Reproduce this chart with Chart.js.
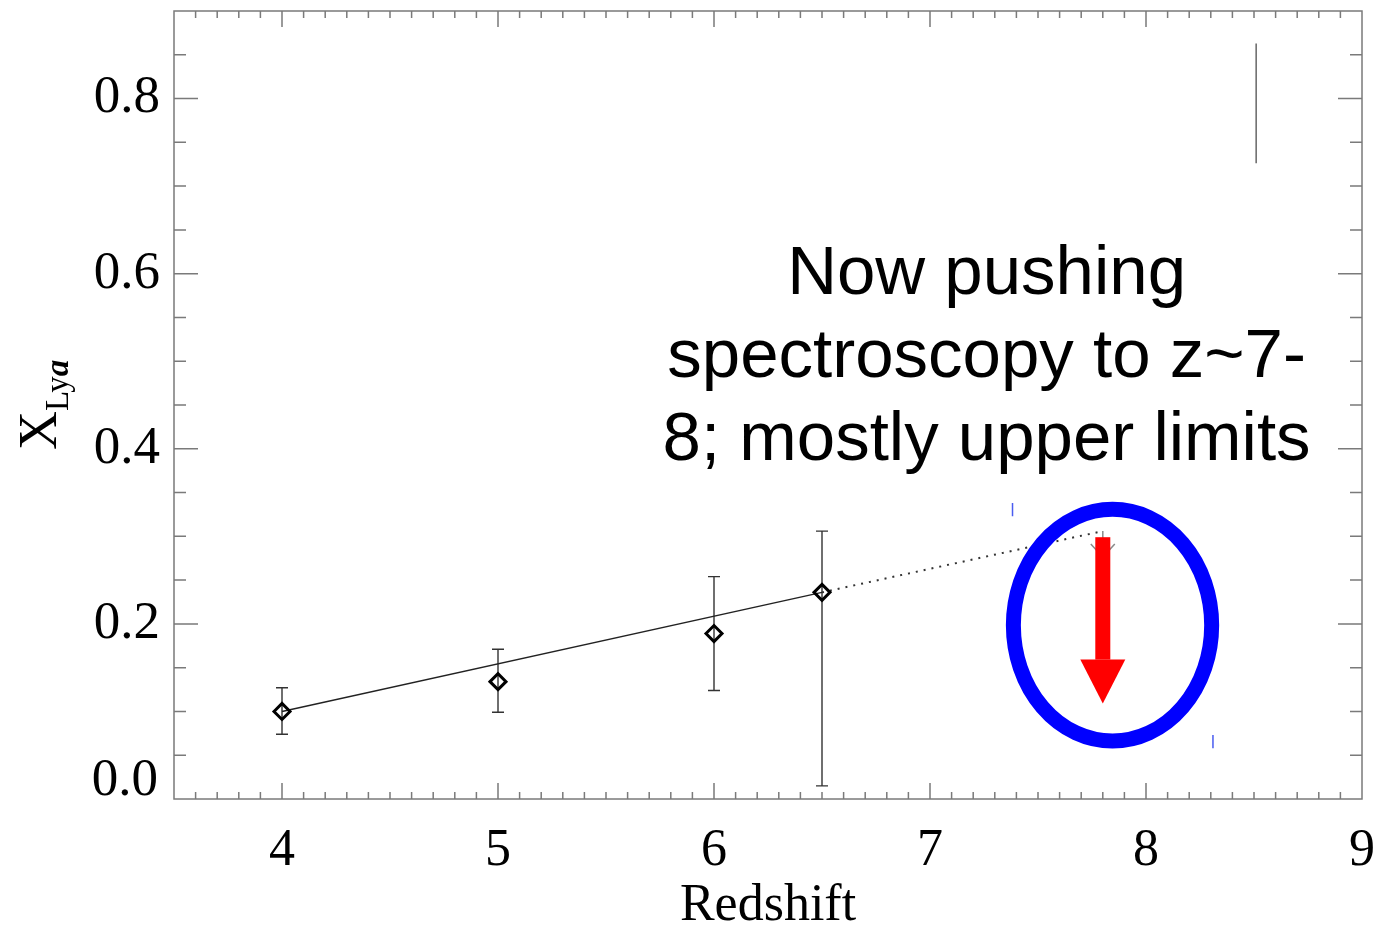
<!DOCTYPE html>
<html>
<head>
<meta charset="utf-8">
<script src="https://cdn.jsdelivr.net/npm/chart.js@4.4.1/dist/chart.umd.min.js"></script>
<style>
  html, body { margin: 0; padding: 0; background: #fff; }
  #wrap { width: 1376px; height: 925px; position: relative; }
</style>
</head>
<body>
<div id="wrap"><canvas id="lyaChart"></canvas></div>
<script>
// measured points with error bars
const redshift = [4, 5, 6, 6.5];
const xLya = [0.100, 0.134, 0.189, 0.236];
const errLow = [0.074, 0.099, 0.124, 0.015];
const errHigh = [0.127, 0.171, 0.254, 0.306];

// linear trend, solid over the data then dotted out to the limit
const fitSolidZ = [4, 6.5];
const fitSolidX = [0.100, 0.236];
const fitDottedZ = [6.5, 7.8];
const fitDottedX = [0.236, 0.306];

// upper limit at z~7.8
const limitZ = [7.8];
const limitX = [0.306];

// stray grey bar top right
const markZ = [8.51, 8.51];
const markX = [0.726, 0.863];

// small blue leftovers near the circle
const blueZ = [7.382, 8.31];
const blueLow = [0.323, 0.058];
const blueHigh = [0.338, 0.073];

const xTickValues = [4, 5, 6, 7, 8, 9];
const yTickValues = [0, 0.2, 0.4, 0.6, 0.8];

const noteLines = ['Now pushing', 'spectroscopy to z~7-', '8; mostly upper limits'];

// overlay anchors (data units)
const circle = { z: 7.845, x: 0.1985, rz: 0.459, rx: 0.1323 };
const redArrow = { z: 7.8, from: 0.299, to: 0.109 };
const note = { z: 7.262, x: 0.577 };

const AXIS_COLOR = '#7a7a7a';
const SERIF = '"Liberation Serif", "Times New Roman", serif';

function toXY(xs, ys) {
    return xs.map((v, i) => ({ x: v, y: ys[i] }));
}

function noPadding(s) {
    s.paddingTop = 0;
    s.paddingBottom = 0;
    s.paddingLeft = 0;
    s.paddingRight = 0;
}

const framePlugin = {
    id: 'frame',
    beforeDatasetsDraw(chart) {
        const { ctx, chartArea: a, scales: { x, y } } = chart;
        ctx.save();
        ctx.strokeStyle = AXIS_COLOR;
        ctx.lineWidth = 1.5;
        ctx.strokeRect(a.left, a.top, a.right - a.left, a.bottom - a.top);

        ctx.beginPath();
        // x ticks every 0.1, major every 1
        for (let i = 36; i < 90; i++) {
            const px = x.getPixelForValue(i / 10);
            const len = i % 10 === 0 ? 16 : 7;
            ctx.moveTo(px, a.bottom); ctx.lineTo(px, a.bottom - len);
            ctx.moveTo(px, a.top); ctx.lineTo(px, a.top + len);
        }
        // y ticks every 0.05, major every 0.2
        for (let i = 1; i < 18; i++) {
            const py = y.getPixelForValue(i * 0.05);
            const len = i % 4 === 0 ? 24 : 12;
            ctx.moveTo(a.left, py); ctx.lineTo(a.left + len, py);
            ctx.moveTo(a.right, py); ctx.lineTo(a.right - len, py);
        }
        ctx.stroke();

        // error bars
        ctx.strokeStyle = '#333';
        ctx.lineWidth = 1.4;
        ctx.beginPath();
        redshift.forEach((z, i) => {
            const px = x.getPixelForValue(z);
            const lo = y.getPixelForValue(errLow[i]);
            const hi = y.getPixelForValue(errHigh[i]);
            ctx.moveTo(px, lo); ctx.lineTo(px, hi);
            ctx.moveTo(px - 6, lo); ctx.lineTo(px + 6, lo);
            ctx.moveTo(px - 6, hi); ctx.lineTo(px + 6, hi);
        });
        ctx.stroke();

        // upper limit marker
        ctx.strokeStyle = '#8a8a8a';
        ctx.lineWidth = 1.5;
        ctx.beginPath();
        limitZ.forEach((z, i) => {
            const px = x.getPixelForValue(z);
            const py = y.getPixelForValue(limitX[i]);
            ctx.moveTo(px, py); ctx.lineTo(px, py + 26);
            ctx.moveTo(px - 12, py + 13); ctx.lineTo(px, py + 26); ctx.lineTo(px + 12, py + 13);
        });
        ctx.stroke();

        // blue leftovers
        ctx.strokeStyle = '#4a5cf0';
        ctx.lineWidth = 1.5;
        ctx.beginPath();
        blueZ.forEach((z, i) => {
            const px = x.getPixelForValue(z);
            ctx.moveTo(px, y.getPixelForValue(blueLow[i]));
            ctx.lineTo(px, y.getPixelForValue(blueHigh[i]));
        });
        ctx.stroke();
        ctx.restore();
    },
    afterDraw(chart) {
        const { ctx, scales: { x, y } } = chart;
        ctx.save();

        // blue circle
        const cx = x.getPixelForValue(circle.z);
        const cy = y.getPixelForValue(circle.x);
        const rx = x.getPixelForValue(circle.z + circle.rz) - cx;
        const ry = cy - y.getPixelForValue(circle.x + circle.rx);
        ctx.strokeStyle = '#0000ff';
        ctx.lineWidth = 15;
        ctx.beginPath();
        ctx.ellipse(cx, cy, rx, ry, 0, 0, Math.PI * 2);
        ctx.stroke();

        // red arrow
        const ax = x.getPixelForValue(redArrow.z);
        const top = y.getPixelForValue(redArrow.from);
        const tip = y.getPixelForValue(redArrow.to);
        ctx.fillStyle = '#ff0000';
        ctx.fillRect(ax - 7.5, top, 15, tip - 44 - top);
        ctx.beginPath();
        ctx.moveTo(ax - 22.5, tip - 44);
        ctx.lineTo(ax + 22.5, tip - 44);
        ctx.lineTo(ax, tip);
        ctx.closePath();
        ctx.fill();

        // annotation text
        ctx.fillStyle = '#000';
        ctx.font = '69px "Liberation Sans", Arial, sans-serif';
        ctx.textAlign = 'center';
        ctx.textBaseline = 'alphabetic';
        const nx = x.getPixelForValue(note.z);
        const ny = y.getPixelForValue(note.x);
        noteLines.forEach((line, i) => ctx.fillText(line, nx, ny + i * 83));

        // 0.0 label sits above its tick
        ctx.font = '53px ' + SERIF;
        ctx.textAlign = 'right';
        ctx.textBaseline = 'middle';
        ctx.fillText('0.0', x.left - 16, y.getPixelForValue(0) - 18);

        // y title with subscript
        ctx.translate(56, 450);
        ctx.rotate(-Math.PI / 2);
        ctx.textAlign = 'left';
        ctx.textBaseline = 'alphabetic';
        ctx.font = '54px ' + SERIF;
        ctx.fillText('X', 0, 0);
        const w1 = ctx.measureText('X').width;
        ctx.font = '33px ' + SERIF;
        ctx.fillText('Ly', w1, 12);
        const w2 = ctx.measureText('Ly').width;
        ctx.font = 'italic bold 33px ' + SERIF;
        ctx.fillText('a', w1 + w2, 12);
        ctx.restore();
    }
};

const ctx = document.getElementById('lyaChart').getContext('2d');
const lyaChart = new Chart(ctx, {
    type: 'scatter',
    data: {
        datasets: [
            {
                label: 'X_Lya',
                data: toXY(redshift, xLya),
                pointStyle: 'rectRot',
                pointRadius: 8,
                pointBorderWidth: 3,
                borderColor: '#000',
                backgroundColor: 'rgba(0,0,0,0)',
                showLine: false,
            },
            {
                label: 'fit',
                data: toXY(fitSolidZ, fitSolidX),
                showLine: true,
                pointRadius: 0,
                borderColor: '#222',
                borderWidth: 1.4,
            },
            {
                label: 'fit extrapolated',
                data: toXY(fitDottedZ, fitDottedX),
                showLine: true,
                pointRadius: 0,
                borderColor: '#333',
                borderWidth: 2,
                borderDash: [2, 6],
            },
            {
                label: 'mark',
                data: toXY(markZ, markX),
                showLine: true,
                pointRadius: 0,
                borderColor: '#666',
                borderWidth: 1.5,
            },
        ],
    },
    options: {
        responsive: true,
        maintainAspectRatio: false,
        animation: false,
        layout: {
            padding: { top: 10, right: 14, left: 0, bottom: 0 }
        },
        plugins: {
            legend: { display: false },
            tooltip: { enabled: false },
        },
        scales: {
            x: {
                type: 'linear',
                min: 3.5,
                max: 9,
                afterFit: (s) => { s.height = 126; noPadding(s); },
                afterBuildTicks: (s) => { s.ticks = xTickValues.map((v) => ({ value: v })); },
                grid: { display: false },
                border: { display: false },
                ticks: {
                    padding: 13,
                    color: '#000',
                    maxRotation: 0,
                    autoSkip: false,
                    font: { family: SERIF, size: 52 },
                    callback: (v) => String(v),
                },
                title: {
                    display: true,
                    text: 'Redshift',
                    color: '#000',
                    font: { family: SERIF, size: 52 },
                    padding: { top: 0, bottom: -13 },
                },
            },
            y: {
                min: 0,
                max: 0.9,
                afterFit: (s) => { s.width = 174; noPadding(s); },
                afterBuildTicks: (s) => { s.ticks = yTickValues.map((v) => ({ value: v })); },
                grid: { display: false },
                border: { display: false },
                ticks: {
                    padding: 6,
                    color: '#000',
                    font: { family: SERIF, size: 53 },
                    callback: (v) => (v === 0 ? '' : v.toFixed(1)),
                },
            },
        },
    },
    plugins: [framePlugin],
});
</script>
</body>
</html>
